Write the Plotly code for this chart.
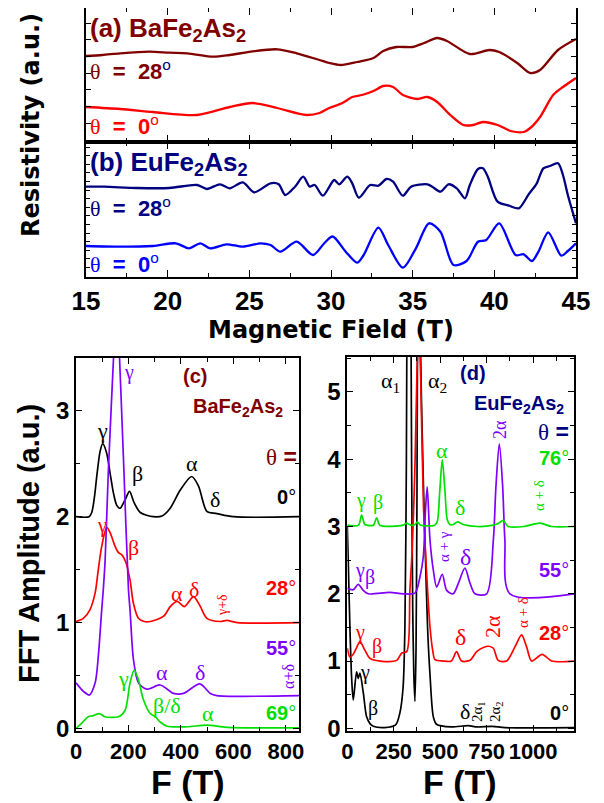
import plotly.graph_objects as go

# page body adds an 8 px margin, so the figure is 8 px smaller and all
# reference pixel positions are shifted by OFF
W, H = 604, 803
OFF = 8
FW, FH = W - OFF, H - OFF

# ---------------- (a) BaFe2As2 resistivity (arb. units) ----------------
ba28_B = [15, 16, 17.1, 18.9, 20.1, 21.2, 22.8, 23.8, 25.1, 26.7, 27.9, 29.3, 29.9, 30.6, 31.6, 32.6, 33.2,
          34.0, 35.0, 35.7, 36.5, 37.1, 38.5, 39.7, 40.3, 41.4, 42.2, 42.8, 43.9, 45]
ba28_R = [86, 87, 88.7, 90.3, 89.3, 88.7, 85.3, 87, 90.3, 92.7, 88.7, 82, 79, 77, 80, 84, 91,
          95, 95, 99, 104, 101, 88, 92, 90, 79, 69, 72, 92, 103]
ba0_B = [15, 17.1, 19.1, 21.8, 23.8, 25.2, 26.7, 28.5, 29.3, 29.9, 30.7, 31.3, 31.9, 32.6, 33.2, 33.8,
         34.4, 35.3, 35.9, 36.5, 37.3, 38.1, 38.7, 39.3, 40.2, 41.0, 41.8, 42.2, 42.8, 43.6, 44.2, 45]
ba0_R = [35, 33, 30, 27, 35, 39, 34, 27, 29, 34, 39, 45, 47, 51, 56, 55,
         47, 43, 45, 40, 27, 17, 17, 20, 17, 11, 10, 14, 25, 47, 55, 64]

# ---------------- (b) EuFe2As2 resistivity (arb. units) ----------------
eu28_B = [15, 16.1, 18.1, 20.1, 21.8, 22.4, 23.2, 23.8, 24.6, 25.3, 26.3, 26.8, 27.2, 27.8, 28.3, 28.7, 29.0,
          29.5, 30.2, 30.5, 31.0, 31.3, 31.7, 32.4, 32.9, 33.4, 33.8, 34.4, 34.9, 35.9, 36.2, 36.7, 37.2,
          37.7, 38.2, 38.5, 39.0, 39.3, 39.6, 40.2, 40.9, 41.5, 42.1, 42.6, 43.0, 43.4, 43.9, 44.2, 44.5, 45]
eu28_R = [90.3, 90.3, 89, 89, 92, 88, 92.7, 88.7, 94.7, 84.7, 93.7, 92.7, 82, 90.3, 100.3, 90.3, 92,
          81.3, 97, 92.7, 100.3, 93.7, 79.3, 92, 91.3, 98, 95.3, 81.3, 90.3, 92.7, 90.3, 85.3, 92.7,
          88.7, 78.7, 92, 108, 108.7, 100.3, 75.3, 71.3, 68.7, 82.7, 93.7, 108.7, 111, 113.7, 102, 82, 53.7]
eu0_B = [15, 17.1, 19.1, 20.5, 21.3, 22.0, 22.6, 23.6, 24.6, 25.7, 26.3, 26.9, 27.9, 28.9, 29.6, 30.1,
         30.9, 31.6, 32.0, 32.9, 33.5, 34.4, 35.2, 36.0, 36.7, 37.5, 38.3, 39.0, 39.5, 40.3, 41.3,
         41.8, 42.3, 42.7, 43.3, 44.1, 44.5, 45]
eu0_R = [31, 30.3, 31, 33.7, 28.7, 33.7, 28.7, 32.7, 30.3, 33.7, 32, 25.3, 35.3, 22, 34, 40.5,
         25.3, 14.3, 22, 49.3, 32, 9.3, 28.7, 53.7, 45.3, 12, 16, 35.3, 37, 53.7, 22,
         22.7, 16, 25.3, 44.7, 21.3, 26, 33.7]

# ---------------- (c) BaFe2As2 FFT spectra ----------------
c0_F = [0, 50, 60, 70, 80, 92, 102, 117, 130, 143, 155, 168, 187, 204, 222, 245, 295, 330, 359, 397, 441, 467, 499, 537, 600, 850]
c0_A = [2.0, 2.0, 2.04, 2.18, 2.4, 2.62, 2.69, 2.60, 2.41, 2.22, 2.11, 2.08, 2.16, 2.24, 2.13, 2.04, 2.0, 2.01, 2.08, 2.25, 2.38, 2.29, 2.05, 2.03, 2.0, 2.0]
c28_F = [0, 28, 53, 73, 85, 98, 117, 130, 149, 162, 175, 190, 206, 219, 238, 260, 283, 334, 359, 385, 413, 448, 474, 499, 550, 576, 614, 850]
c28_A = [1.01, 1.04, 1.12, 1.28, 1.50, 1.72, 1.90, 1.85, 1.72, 1.66, 1.64, 1.57, 1.40, 1.18, 1.04, 1.01, 1.01, 1.06, 1.15, 1.20, 1.15, 1.245, 1.15, 1.04, 1.01, 1.02, 1.0, 1.0]
c55_F = [0, 28, 51, 73, 85, 98, 104, 111, 123, 143, 155, 166, 183, 200, 206, 219, 238, 270, 321, 372, 410, 472, 512, 537, 850]
c55_A = [0.43, 0.35, 0.315, 0.43, 0.68, 1.12, 1.31, 1.59, 2.41, 3.5, 4.1, 3.5, 2.41, 1.31, 1.12, 0.65, 0.43, 0.37, 0.41, 0.33, 0.33, 0.42, 0.33, 0.31, 0.31]
c69_F = [0, 22, 47, 66, 89, 110, 162, 187, 206, 222, 238, 257, 283, 302, 321, 347, 423, 499, 576, 850]
c69_A = [0, 0.05, 0.11, 0.12, 0.14, 0.11, 0.11, 0.17, 0.43, 0.55, 0.46, 0.27, 0.14, 0.11, 0.06, 0.02, 0.015, 0.03, 0.01, 0.005]

# ---------------- (d) EuFe2As2 FFT spectra ----------------
d0_F = [0, 5, 14, 23, 32, 50, 59, 68, 86, 104, 122, 140, 200, 260, 283, 300, 310, 318, 324, 332, 340, 346, 352, 358,
        364, 370, 375, 380, 387, 395, 408, 420, 432, 445, 463, 480, 560, 650, 700, 780, 850, 1220]
d0_A = [3.0, 2.5, 1.51, 0.77, 0.42, 0.84, 0.74, 0.82, 0.53, 0.17, 0.07, 0.03, 0.01, 0.05, 0.23, 0.6, 1.5, 4.0, 8.0, 10, 7.5, 4.0, 1.8, 0.8,
        0.40, 1.2, 3.5, 7.0, 8.5, 5.5, 3.8, 2.6, 1.5, 0.8, 0.17, 0.06, 0.02, 0.04, 0.02, 0.03, 0.01, 0.01]
d28_F = [0, 14, 32, 50, 68, 95, 122, 176, 266, 293, 320, 337, 350, 365, 375, 385, 395, 410, 427, 445, 460, 472, 516, 560,
         588, 615, 660, 696, 732, 760, 786, 812, 857, 902, 938, 965, 992, 1049, 1100, 1220]
d28_A = [1.19, 1.06, 1.1, 1.2, 1.29, 1.16, 1.04, 1.0, 1.01, 1.12, 1.14, 2.06, 2.7, 4.0, 5.3, 6.0, 5.2, 3.3, 2.3, 1.51, 1.15, 1.02, 1.0, 1.0,
         1.14, 1.0, 1.01, 1.14, 1.2, 1.22, 1.19, 1.01, 1.0, 1.21, 1.39, 1.21, 1.0, 1.1, 1.0, 1.0]
d55_F = [0, 32, 59, 86, 113, 229, 300, 364, 391, 409, 420, 430, 445, 463, 481, 511, 535, 570, 597, 633, 660, 687, 750, 786,
         800, 818, 836, 848, 875, 1220]
d55_A = [2.08, 2.06, 2.14, 2.05, 2.0, 2.02, 2.0, 2.01, 2.25, 2.55, 3.2, 3.59, 2.8, 2.35, 2.1, 2.29, 2.05, 2.0, 2.15, 2.38, 2.16, 2.0, 2.0, 2.8,
         3.6, 4.23, 3.6, 2.8, 2.0, 2.0]
d76_F = [0, 60, 77, 95, 140, 158, 175, 300, 320, 340, 365, 377, 395, 470, 484, 497, 511, 525, 538, 552, 570, 594, 624, 700,
         786, 815, 839, 866, 950, 1037, 1100, 1220]
d76_A = [3.02, 3.02, 3.17, 3.03, 3.02, 3.13, 3.02, 3.02, 3.05, 3.02, 3.03, 3.07, 3.02, 3.02, 3.07, 3.5, 3.99, 3.55, 3.1, 3.03, 3.03, 3.07, 3.03, 3.0,
         3.02, 3.05, 3.09, 3.0, 3.0, 3.05, 3.0, 3.0]

# ---------------- styling ----------------
DR, RED, NAVY, BLUE, PURPLE, GREEN = "#800000", "#ff0000", "#000080", "#0000ff", "#8000ff", "#00e000"
SANS = "Liberation Sans, Arial, sans-serif"
WIDE = "DejaVu Sans, sans-serif"
SERIF = "Liberation Serif, Times New Roman, serif"

fig = go.Figure()


def line(x, y, color, xa, ya, width=1.7):
    fig.add_trace(go.Scatter(x=x, y=y, mode="lines", xaxis=xa, yaxis=ya, hoverinfo="skip",
                             line=dict(color=color, width=width, shape="spline", smoothing=0.8)))


line(ba28_B, ba28_R, DR, "x", "y", 2.3)
line(ba0_B, ba0_R, RED, "x", "y", 2.3)
line(eu28_B, eu28_R, NAVY, "x2", "y2", 2.3)
line(eu0_B, eu0_R, BLUE, "x2", "y2", 2.3)

line(c0_F, c0_A, "black", "x3", "y3")
line(c28_F, c28_A, RED, "x3", "y3")
line(c55_F, c55_A, PURPLE, "x3", "y3")
line(c69_F, c69_A, GREEN, "x3", "y3")

line(d0_F, d0_A, "black", "x4", "y4")
line(d28_F, d28_A, RED, "x4", "y4")
line(d55_F, d55_A, PURPLE, "x4", "y4")
line(d76_F, d76_A, GREEN, "x4", "y4")


def ax(**kw):
    base = dict(showline=True, linecolor="black", linewidth=1.6, mirror="allticks", ticks="inside",
                tickcolor="black", tickwidth=1.4, showgrid=False, zeroline=False, fixedrange=True,
                automargin=False)
    base.update(kw)
    return base


def dx(a, b):
    return [max(0.0, (a - OFF) / FW), min(1.0, (b - OFF) / FW)]


def dy(top, bottom):
    return [max(0.0, 1 - (bottom - OFF) / FH), min(1.0, 1 - (top - OFF) / FH)]


top_tickfont = dict(family=SANS, size=26, color="black", weight="bold")
bot_tickfont = dict(family=SANS, size=22, color="black", weight="bold")

fig.update_layout(
    width=FW, height=FH, margin=dict(l=0, r=0, t=0, b=0, pad=0), autosize=False,
    paper_bgcolor="white", plot_bgcolor="white", showlegend=False,
    xaxis=ax(domain=dx(86, 576), anchor="y", range=[15, 45], tick0=15, dtick=5, ticklen=7,
             showticklabels=False, minor=dict(ticks="inside", dtick=2.5, ticklen=4, tickcolor="black")),
    yaxis=ax(domain=dy(8, 142), anchor="x", range=[0, 134], tick0=2, dtick=16.7, ticklen=5, showticklabels=False),
    xaxis2=ax(domain=dx(86, 576), anchor="y2", range=[15, 45], tick0=15, dtick=5, ticklen=7,
              tickfont=top_tickfont, tickangle=0,
              minor=dict(ticks="inside", dtick=2.5, ticklen=4, tickcolor="black")),
    yaxis2=ax(domain=dy(142, 277), anchor="x2", range=[0, 135], tick0=1, dtick=8.6, ticklen=4, showticklabels=False),
    xaxis3=ax(domain=dx(76, 299), anchor="y3", range=[0, 850], tick0=0, dtick=200, ticklen=6,
              tickfont=bot_tickfont, tickangle=0,
              minor=dict(ticks="inside", dtick=100, ticklen=4, tickcolor="black")),
    yaxis3=ax(domain=dy(358, 731), anchor="x3", range=[-0.025, 3.5], tick0=0, dtick=1, ticklen=6,
              tickfont=dict(family=SANS, size=24, color="black", weight="bold"),
              minor=dict(ticks="inside", dtick=0.5, ticklen=4, tickcolor="black")),
    xaxis4=ax(domain=dx(347.3, 574), anchor="y4", range=[0, 1220], tick0=0, dtick=250, ticklen=6,
              tickfont=bot_tickfont, tickangle=0,
              minor=dict(ticks="inside", dtick=125, ticklen=4, tickcolor="black")),
    yaxis4=ax(domain=dy(357, 731), anchor="x4", range=[-0.04, 5.52], tick0=0, dtick=1, ticklen=6,
              tickfont=dict(family=SANS, size=24, color="black", weight="bold"),
              minor=dict(ticks="inside", dtick=0.5, ticklen=4, tickcolor="black")),
)

anns = []


def lab(x, y, text, color, size=20, family=SANS, angle=0, xanchor="center", yanchor="middle"):
    anns.append(dict(x=(x - OFF) / FW, y=1 - (y - OFF) / FH, xref="paper", yref="paper", text=text,
                     showarrow=False, font=dict(family=family, size=size, color=color), textangle=angle,
                     xanchor=xanchor, yanchor=yanchor))


def theta(num, col, degcol):
    return ("<span style='font-family:Liberation Serif'>θ</span>\u00a0\u00a0<b>=</b>\u00a0\u00a0"
            f"<b>{num}</b><sup><span style='color:{degcol}'>o</span></sup>")


TH = "<span style='font-family:Liberation Serif'>θ</span> <b>=</b>"

# axis titles
lab(31, 125, "<b>Resistivity (a.u.)</b>", "black", 24, WIDE, -90)
lab(331, 330, "<b>Magnetic Field (T)</b>", "black", 24, WIDE)
lab(29, 544, "<b>FFT Amplitude (a.u.)</b>", "black", 29, SANS, -90)
lab(188, 782, "<b>F (T)</b>", "black", 34, SANS)
lab(460, 782, "<b>F (T)</b>", "black", 34, SANS)

# (a) / (b) labels
lab(88, 30, "<b>(a) BaFe<sub>2</sub>As<sub>2</sub></b>", DR, 26, SANS, xanchor="left")
lab(88, 70, theta(28, DR, NAVY), DR, 22, SANS, xanchor="left")
lab(88, 125, theta(0, RED, RED), RED, 22, SANS, xanchor="left")
lab(88, 164, "<b>(b) EuFe<sub>2</sub>As<sub>2</sub></b>", NAVY, 26, SANS, xanchor="left")
lab(88, 207, theta(28, NAVY, NAVY), NAVY, 22, SANS, xanchor="left")
lab(88, 263, theta(0, BLUE, BLUE), BLUE, 22, SANS, xanchor="left")

# (c) labels
lab(195, 376, "<b>(c)</b>", DR, 20)
lab(238, 407, "<b>BaFe<sub>2</sub>As<sub>2</sub></b>", DR, 20)
lab(281, 457, TH, DR, 23)
lab(298, 497, "<b>0</b>°", "black", 20, xanchor="right")
lab(298, 588, "<b>28</b>°", RED, 20, xanchor="right")
lab(298, 648, "<b>55</b>°", PURPLE, 20, xanchor="right")
lab(298, 713, "<b>69</b>°", GREEN, 20, xanchor="right")
lab(102, 430, "γ", "black", 22, SERIF)
lab(137, 473, "β", "black", 22, SERIF)
lab(192, 463, "α", "black", 22, SERIF)
lab(215, 499, "δ", "black", 22, SERIF)
lab(129, 372, "γ", PURPLE, 20, SERIF)
lab(102, 525, "γ", RED, 20, SERIF)
lab(133, 547, "β", RED, 22, SERIF)
lab(177, 593, "α", RED, 22, SERIF)
lab(194, 589, "δ", RED, 22, SERIF)
lab(222, 605, "γ+δ", RED, 14, SERIF, -90)
lab(162, 672, "α", PURPLE, 22, SERIF)
lab(200, 672, "δ", PURPLE, 22, SERIF)
lab(288, 677, "α+δ", PURPLE, 16, SERIF, -90)
lab(123, 678, "γ", GREEN, 22, SERIF)
lab(167, 705, "β/δ", GREEN, 22, SERIF)
lab(208, 713, "α", GREEN, 22, SERIF)

# (d) labels
lab(390, 382, "α<sub>1</sub>", "black", 22, SERIF)
lab(437, 382, "α<sub>2</sub>", "black", 22, SERIF)
lab(473, 373, "<b>(d)</b>", NAVY, 20)
lab(519, 404, "<b>EuFe<sub>2</sub>As<sub>2</sub></b>", NAVY, 20)
lab(553, 432, TH, NAVY, 23)
lab(571, 458, "<b>76</b>°", GREEN, 20, xanchor="right")
lab(571, 570, "<b>55</b>°", PURPLE, 20, xanchor="right")
lab(571, 633, "<b>28</b>°", RED, 20, xanchor="right")
lab(571, 713, "<b>0</b>°", "black", 20, xanchor="right")
lab(361, 500, "γ", GREEN, 20, SERIF)
lab(378, 502, "β", GREEN, 20, SERIF)
lab(442, 450, "α", GREEN, 22, SERIF)
lab(460, 507, "δ", GREEN, 22, SERIF)
lab(539, 496, "α + δ", GREEN, 15, SERIF, -90)
lab(500, 430, "2α", PURPLE, 18, SERIF, -90)
lab(444, 547, "α + γ", PURPLE, 15, SERIF, -90)
lab(465, 557, "δ", PURPLE, 24, SERIF)
lab(360, 570, "γ", PURPLE, 20, SERIF)
lab(370, 577, "β", PURPLE, 20, SERIF)
lab(360, 632, "γ", RED, 20, SERIF)
lab(377, 646, "β", RED, 20, SERIF)
lab(460, 637, "δ", RED, 24, SERIF)
lab(492, 627, "2α", RED, 22, SERIF, -90)
lab(523, 613, "α + δ", RED, 15, SERIF, -90)
lab(365, 672, "γ", "black", 20, SERIF)
lab(373, 708, "β", "black", 20, SERIF)
lab(465, 711, "δ", "black", 22, SERIF)
lab(478, 712, "2α<sub>1</sub>", "black", 15, SERIF, -90)
lab(496, 712, "2α<sub>2</sub>", "black", 15, SERIF, -90)

fig.update_layout(annotations=anns)
fig.write_html("out.html")
